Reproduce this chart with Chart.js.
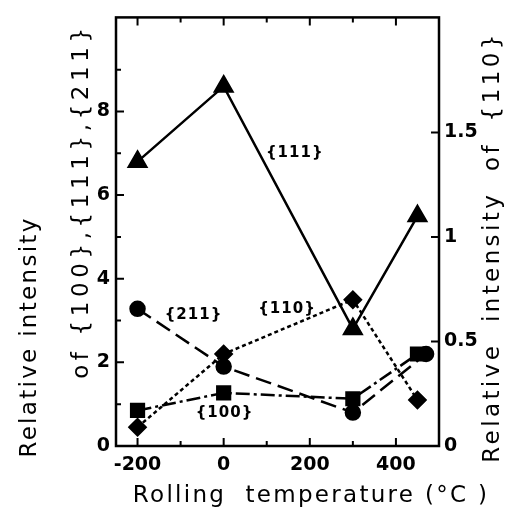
<!DOCTYPE html>
<html>
<head>
<meta charset="utf-8">
<script src="https://cdn.jsdelivr.net/npm/chart.js@4.4.1/dist/chart.umd.min.js"></script>
<style>
  html, body { margin: 0; padding: 0; background: #fff; }
  #wrap { width: 523px; height: 514px; }
</style>
</head>
<body>
<div id="wrap"><canvas id="chart"></canvas></div>
<script>
// rolling temperature (°C) for each texture component
const temps111 = [-200, 0, 300, 450];
const temps211 = [-200, 0, 300, 470];
const temps100 = [-200, 0, 300, 450];
const temps110 = [-200, 0, 300, 450];

// relative intensities (left axis: 111, 211, 100 ; right axis: 110)
const int111 = [6.8, 8.6, 2.8, 5.5];
const int211 = [3.28, 1.9, 0.8, 2.2];
const int100 = [0.85, 1.27, 1.13, 2.2];
const int110 = [0.09, 0.44, 0.70, 0.22];

const xTicks = [-200, 0, 200, 400];
const xMinorTicks = [-100, 100, 300];
const leftTicks = [0, 2, 4, 6, 8];
const leftMinorTicks = [1, 3, 5, 7, 9];
const rightTicks = [0, 0.5, 1, 1.5];

const seriesLabels = ['{111}', '{211}', '{110}', '{100}'];

const pts = (xs, ys) => xs.map((x, i) => ({ x: x, y: ys[i] }));

const tickFont = { family: 'DejaVu Sans', size: 19, weight: 'bold' };
const titleFont = '23px "DejaVu Sans"';

// where the series labels sit, in data units
const labelSpots = [
  { x: 165, y: 7.0 },
  { x: -70, y: 3.14 },
  { x: 147, y: 3.28 },
  { x: 2, y: 0.78 }
];

const framePlugin = {
  id: 'frame',
  afterDraw(chart) {
    const { ctx, chartArea: a, scales } = chart;
    const sx = scales.x, sy = scales.y, sr = scales.y1;
    ctx.save();
    ctx.strokeStyle = '#000';
    ctx.lineWidth = 2.5;
    ctx.strokeRect(a.left, a.top, a.right - a.left, a.bottom - a.top);

    // inward tick marks
    ctx.lineWidth = 2;
    ctx.beginPath();
    const tickX = (vals, len) => vals.forEach(v => {
      const px = sx.getPixelForValue(v);
      ctx.moveTo(px, a.bottom); ctx.lineTo(px, a.bottom - len);
      ctx.moveTo(px, a.top); ctx.lineTo(px, a.top + len);
    });
    tickX(xTicks, 8);
    tickX(xMinorTicks, 5);
    leftTicks.concat(leftMinorTicks).forEach(v => {
      const py = sy.getPixelForValue(v);
      const len = leftTicks.includes(v) ? 8 : 5;
      ctx.moveTo(a.left, py); ctx.lineTo(a.left + len, py);
    });
    rightTicks.forEach(v => {
      const py = sr.getPixelForValue(v);
      ctx.moveTo(a.right, py); ctx.lineTo(a.right - 8, py);
    });
    ctx.stroke();

    // series labels
    ctx.fillStyle = '#000';
    ctx.font = 'bold 15px "DejaVu Sans"';
    ctx.letterSpacing = '1px';
    ctx.textAlign = 'center';
    ctx.textBaseline = 'middle';
    seriesLabels.forEach((t, i) => {
      ctx.fillText(t, sx.getPixelForValue(labelSpots[i].x), sy.getPixelForValue(labelSpots[i].y));
    });

    // axis titles
    ctx.font = titleFont;
    ctx.letterSpacing = '2.3px';
    ctx.fillText('Rolling  temperature (°C )', 311, 496);

    ctx.save();
    ctx.translate(30, 337);
    ctx.rotate(-Math.PI / 2);
    ctx.fillText('Relative intensity', 0, 0);
    ctx.restore();

    ctx.save();
    ctx.translate(82, 201);
    ctx.rotate(-Math.PI / 2);
    ctx.letterSpacing = '4.6px';
    ctx.fillText('of {100},{111},{211}', 0, 0);
    ctx.restore();

    ctx.save();
    ctx.translate(493, 247);
    ctx.rotate(-Math.PI / 2);
    ctx.letterSpacing = '3.4px';
    ctx.wordSpacing = '10px';
    ctx.fillText('Relative intensity of {110}', 0, 0);
    ctx.restore();

    ctx.restore();
  }
};

const common = {
  borderColor: '#000',
  backgroundColor: '#000',
  pointBackgroundColor: '#000',
  pointBorderColor: '#000',
  borderWidth: 2.5,
  tension: 0,
  fill: false
};

new Chart(document.getElementById('chart'), {
  type: 'line',
  data: {
    datasets: [
      Object.assign({ label: '{111}', data: pts(temps111, int111), yAxisID: 'y',
        pointStyle: 'triangle', pointRadius: 10 }, common),
      Object.assign({ label: '{211}', data: pts(temps211, int211), yAxisID: 'y',
        pointStyle: 'circle', pointRadius: 7, borderDash: [16, 7] }, common),
      Object.assign({ label: '{100}', data: pts(temps100, int100), yAxisID: 'y',
        pointStyle: 'rect', pointRadius: 9, borderDash: [14, 4, 3, 4] }, common),
      Object.assign({ label: '{110}', data: pts(temps110, int110), yAxisID: 'y1',
        pointStyle: 'rectRot', pointRadius: 8, borderDash: [4, 3] }, common)
    ]
  },
  options: {
    responsive: true,
    maintainAspectRatio: false,
    animation: false,
    layout: { padding: { top: 12, left: 0, right: 0, bottom: 0 } },
    plugins: {
      legend: { display: false },
      tooltip: { enabled: false }
    },
    scales: {
      x: {
        type: 'linear',
        min: -250,
        max: 500,
        afterBuildTicks: s => { s.ticks = xTicks.map(v => ({ value: v })); },
        afterFit: s => { s.height = 68; },
        grid: { drawOnChartArea: false, drawTicks: false },
        border: { display: false },
        ticks: { color: '#000', font: tickFont, padding: 8 }
      },
      y: {
        position: 'left',
        min: 0,
        max: 10.25,
        afterBuildTicks: s => { s.ticks = leftTicks.map(v => ({ value: v })); },
        afterFit: s => { s.width = 116; },
        grid: { drawOnChartArea: false, drawTicks: false },
        border: { display: false },
        ticks: { color: '#000', font: tickFont, padding: 6 }
      },
      y1: {
        position: 'right',
        min: 0,
        max: 2.05,
        afterBuildTicks: s => { s.ticks = rightTicks.map(v => ({ value: v })); },
        afterFit: s => { s.width = 84; },
        grid: { drawOnChartArea: false, drawTicks: false },
        border: { display: false },
        ticks: { color: '#000', font: tickFont, padding: 5, callback: v => String(v) }
      }
    }
  },
  plugins: [framePlugin]
});
</script>
</body>
</html>
